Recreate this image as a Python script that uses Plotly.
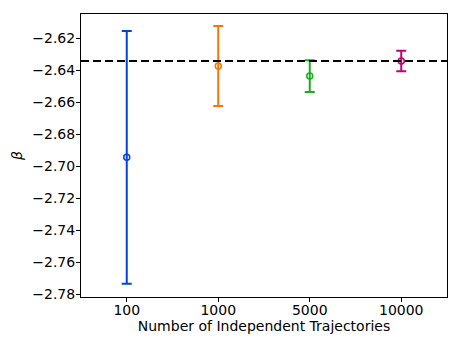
import plotly.graph_objects as go

# number of trajectories (categorical x)
trajectories = ['100', '1000', '5000', '10000']
beta_mean = [-2.6944, -2.6373, -2.6436, -2.6342]
beta_err = [0.0790, 0.0250, 0.0099, 0.0064]
colors = ['#0343df', '#f97306', '#15b01a', '#c20078']
reference_beta = -2.6342


def make_figure():
    fig = go.Figure()

    for name, mean, err, color in zip(trajectories, beta_mean, beta_err, colors):
        fig.add_trace(go.Scatter(
            x=[name], y=[mean],
            mode='markers',
            marker=dict(symbol='circle-open', size=6, color=color,
                        line=dict(width=1.5, color=color)),
            error_y=dict(type='data', array=[err], visible=True,
                         color=color, thickness=2, width=5),
            showlegend=False,
        ))

    fig.add_hline(y=reference_beta, line=dict(color='black', width=2, dash='8px,4px'))

    # page body has an 8px margin, so the figure is a bit smaller than the window
    fig.update_layout(
        width=453, height=338,
        margin=dict(l=73, r=14, t=6, b=49),
        plot_bgcolor='white', paper_bgcolor='white',
        font=dict(family='DejaVu Sans', size=14, color='black'),
    )
    fig.update_xaxes(
        type='category', range=[-0.5, 3.5], automargin=False,
        title=dict(text='Number of Independent Trajectories', standoff=0,
                   font=dict(size=14)),
        showline=True, linecolor='black', linewidth=1, mirror=True,
        ticks='outside', ticklen=4, tickcolor='black', showgrid=False,
        tickfont=dict(size=14), ticklabelstandoff=-4,
    )
    fig.update_yaxes(
        range=[-2.7817, -2.6048], automargin=False,
        tickvals=[-2.62, -2.64, -2.66, -2.68, -2.70, -2.72, -2.74, -2.76, -2.78],
        ticktext=['\u22122.62', '\u22122.64', '\u22122.66', '\u22122.68', '\u22122.70',
                  '\u22122.72', '\u22122.74', '\u22122.76', '\u22122.78'],
        title=dict(text='<i>β</i>', standoff=6, font=dict(size=14)),
        showline=True, linecolor='black', linewidth=1, mirror=True,
        ticks='outside', ticklen=4, tickcolor='black', showgrid=False,
        zeroline=False, tickfont=dict(size=14), ticklabelstandoff=-2,
    )
    return fig


def main():
    fig = make_figure()
    fig.write_html('out.html')


if __name__ == '__main__':
    main()
